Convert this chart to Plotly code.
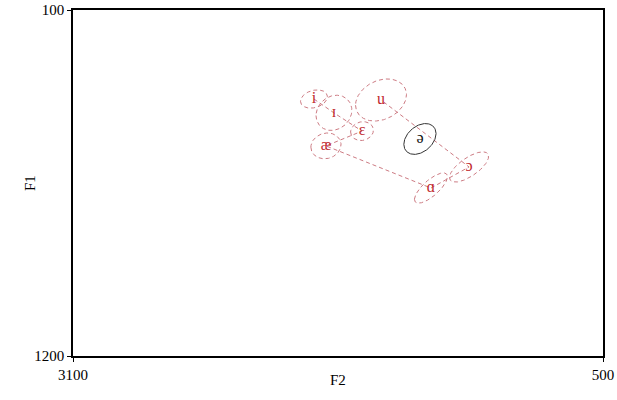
import numpy as np
import plotly.graph_objects as go

# Vowel formant summary (Hz): means, spreads and F1/F2 correlation
vowels = ["i", "ɪ", "ɛ", "æ", "ɑ", "ɔ", "u", "ə"]
f2_mean = [1918, 1820, 1682, 1859, 1344, 1157, 1589, 1398]
f1_mean = [383, 427, 485, 532, 666, 599, 386, 510]
f2_sd = [66, 88, 56, 74, 81, 96, 125, 79]
f1_sd = [29, 56, 30, 41, 48, 48, 67, 49]
f1f2_r = [0.25, 0.15, 0.1, 0.1, 0.75, 0.7, 0.25, 0.35]

# Vowel outline path (ə is shown separately)
path = ["i", "ɪ", "ɛ", "æ", "ɑ", "ɔ", "u"]

red_label = "#c0282d"
red_line = "#cd7b83"
serif = "Liberation Serif, Times New Roman, serif"

fig = go.Figure()

idx = {v: k for k, v in enumerate(vowels)}
fig.add_trace(go.Scatter(
    x=[f2_mean[idx[v]] for v in path],
    y=[f1_mean[idx[v]] for v in path],
    mode="lines",
    line=dict(color=red_line, width=1, dash="4px,3px"),
    hoverinfo="skip", showlegend=False,
))

t = np.linspace(0, 2 * np.pi, 200)
for v, mx, my, sx, sy, r in zip(vowels, f2_mean, f1_mean, f2_sd, f1_sd, f1f2_r):
    ex = mx + sx * np.cos(t)
    ey = my + sy * (r * np.cos(t) + np.sqrt(1 - r * r) * np.sin(t))
    schwa = v == "ə"
    fig.add_trace(go.Scatter(
        x=ex, y=ey, mode="lines",
        line=dict(color="#333333" if schwa else red_line, width=1,
                  dash="solid" if schwa else "4px,3px"),
        hoverinfo="skip", showlegend=False,
    ))

fig.add_trace(go.Scatter(
    x=f2_mean, y=f1_mean, mode="text", text=vowels,
    textposition="middle center",
    textfont=dict(family=serif, size=16,
                  color=[("#111111" if v == "ə" else red_label) for v in vowels]),
    hoverinfo="skip", showlegend=False,
))

axis_common = dict(
    showline=True, linecolor="black", linewidth=1.5, mirror=True,
    showgrid=False, zeroline=False, ticks="outside", ticklen=4,
    tickcolor="black", tickwidth=1, automargin=False,
    tickfont=dict(family=serif, size=15, color="black"),
)

fig.update_layout(
    width=617, height=400,
    margin=dict(l=73, r=14, t=10, b=44),
    paper_bgcolor="white", plot_bgcolor="white",
    xaxis=dict(range=[3100, 500], tickvals=[3100, 500], ticktext=["3100", "500"],
               **axis_common),
    yaxis=dict(range=[1200, 100], tickvals=[100, 1200], ticktext=["100", "1200"],
               **axis_common),
    annotations=[
        dict(text="Young Males", x=0.5, y=28, xref="paper", yref="y",
             xanchor="center", yanchor="middle", showarrow=False,
             font=dict(family=serif, size=21, color="black")),
        dict(text="F2", x=0.5, y=-0.069, xref="paper", yref="paper",
             xanchor="center", yanchor="middle", showarrow=False,
             font=dict(family=serif, size=15, color="black")),
        dict(text="F1", x=-0.081, y=0.5, xref="paper", yref="paper",
             xanchor="center", yanchor="middle", showarrow=False, textangle=-90,
             font=dict(family=serif, size=15, color="black")),
    ],
)

fig.write_html("out.html")
